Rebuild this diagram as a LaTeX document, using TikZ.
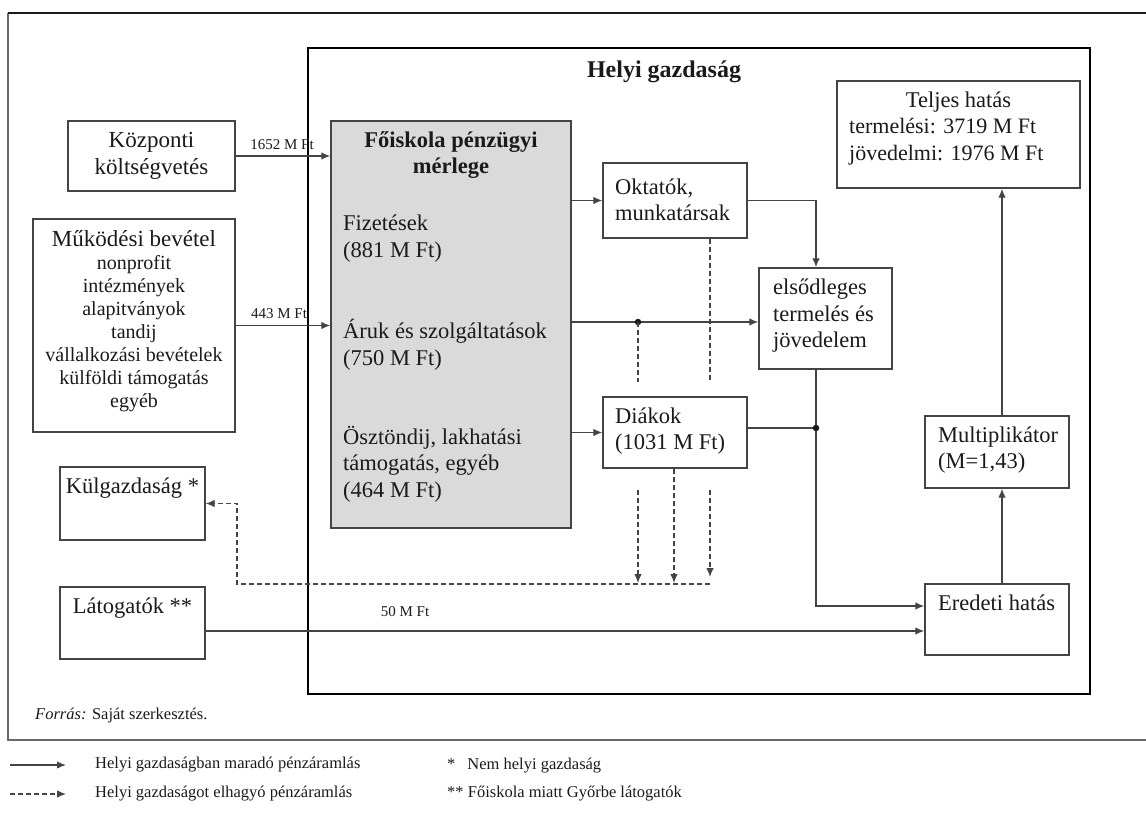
\documentclass[tikz,border=0pt]{standalone}
\usepackage{fontspec}
\setmainfont{Liberation Serif}
\usetikzlibrary{arrows.meta}
\definecolor{edge}{HTML}{444444}
\definecolor{ink}{HTML}{1A1A1A}
\definecolor{panel}{HTML}{DADADA}

\begin{document}
\begin{tikzpicture}[x=1pt,y=-1pt,
  box/.style={draw=edge, line width=1.4pt, fill=white, inner sep=0pt},
  txt/.style={text=ink, inner sep=0pt, font=\fontsize{22.5}{26.5}\selectfont},
  small/.style={text=ink, inner sep=0pt, font=\fontsize{15}{18}\selectfont},
  legend/.style={text=ink, inner sep=0pt, anchor=west, font=\fontsize{16.5}{19}\selectfont},
  flow/.style={draw=edge, line width=1.3pt, -{Latex[length=9pt,width=7.5pt]}},
  leak/.style={draw=edge, line width=1.1pt, dash pattern=on 5pt off 3pt, -{Latex[length=9pt,width=7.5pt]}},
  leakline/.style={draw=edge, line width=1.1pt, dash pattern=on 5pt off 3pt},
  joint/.style={circle, fill=ink, inner sep=0pt, minimum size=6.5pt},
]
\useasboundingbox (0,0) rectangle (1146,813);

% outer frame (open to the right)
\draw[draw=edge!80, line width=1.2pt] (1146,740) -- (8,740) -- (8,13);
\draw[draw=ink, line width=2.6pt] (8,13) -- (1146,13);

% local economy frame
\node[draw=black, line width=2.6pt, inner sep=0pt, minimum width=782pt, minimum height=646pt] (helyi) at (699,371) {};
\node[txt, font=\bfseries\fontsize{24}{28}\selectfont] (helyititle) at (664,72) {Helyi gazdaság};

% sources
\node[box, txt, align=center, minimum width=167pt, minimum height=70pt, font=\fontsize{23}{27}\selectfont] (kozp) at (151.5,156) {Központi\\költségvetés};
\node[box, minimum width=202pt, minimum height=213pt] (mukod) at (134,325.5) {};
\node[txt, align=center, font=\fontsize{20}{23}\selectfont] (mukodtxt) at (134,321)
  {{\fontsize{23}{23}\selectfont Működési bevétel}\\nonprofit\\intézmények\\alapitványok\\tandij\\vállalkozási bevételek\\külföldi támogatás\\egyéb};

% college balance
\node[box, fill=panel, minimum width=240pt, minimum height=407pt] (foisk) at (451,324.5) {};
\node[txt, align=center, font=\bfseries\fontsize{22.5}{26}\selectfont] (foisktitle) at (451,155) {Főiskola pénzügyi\\mérlege};
\node[txt, anchor=west, align=left] (fizet) at (343,238.5) {Fizetések\\(881 M Ft)};
\node[txt, anchor=west, align=left] (aruk) at (343,344.5) {Áruk és szolgáltatások\\(750 M Ft)};
\node[txt, anchor=west, align=left] (oszt) at (343,464) {Ösztöndij, lakhatási\\támogatás, egyéb\\(464 M Ft)};

% recipients
\node[box, minimum width=144pt, minimum height=75pt] (oktat) at (675,200.5) {};
\node[txt, anchor=west, align=left] (oktattxt) at (615,200) {Oktatók,\\munkatársak};
\node[box, minimum width=144pt, minimum height=71pt] (diak) at (675,432.5) {};
\node[txt, anchor=west, align=left] (diaktxt) at (615,431) {Diákok\\(1031 M Ft)};
\node[box, minimum width=133pt, minimum height=101pt] (elsod) at (825.5,318.5) {};
\node[txt, anchor=west, align=left] (elsodtxt) at (773,316) {elsődleges\\termelés és\\jövedelem};

% impacts
\node[box, minimum width=243pt, minimum height=107pt] (teljes) at (958.5,134.5) {};
\node[txt] (teljescap) at (958.5,102) {Teljes hatás};
\node[txt, anchor=west, align=left, font=\fontsize{22}{26.5}\selectfont] (teljesval) at (849,141.5) {termelési: 3719 M Ft\\jövedelmi: 1976 M Ft};
\node[box, minimum width=144pt, minimum height=72pt] (multi) at (997,452) {};
\node[txt, anchor=west, align=left] (multitxt) at (938,450) {Multiplikátor\\(M=1,43)};
\node[box, minimum width=144pt, minimum height=71pt] (ered) at (997,619.5) {};
\node[txt, anchor=west] (eredtxt) at (938,603) {Eredeti hatás};

% outside the local economy
\node[box, minimum width=145pt, minimum height=73pt] (kulg) at (132.5,503.5) {};
\node[txt] (kulgtxt) at (132.5,488) {Külgazdaság *};
\node[box, minimum width=145pt, minimum height=72pt] (latog) at (132.5,623) {};
\node[txt] (latogtxt) at (132.5,608) {Látogatók **};

% helper coordinates
\coordinate (jdot) at (638,322);
\coordinate (jx) at (816,428);
\coordinate (jbend) at (816,606);
\coordinate (vy) at (400,631);
\coordinate (mx) at (1002,540);
\coordinate (dB) at (674,0);
\coordinate (dC) at (710,0);
\coordinate (gapTop) at (0,382);
\coordinate (gapBot) at (0,490);
\coordinate (tipY) at (0,583);
\coordinate (tipYc) at (0,577);
\coordinate (coll) at (710,584);
\coordinate (collL) at (237,584);

% money flows staying local
\draw[flow] (kozp.east) -- (kozp.east -| foisk.west);
\draw[flow] (mukod.east) -- (mukod.east -| foisk.west);
\draw[flow] (oktat.west -| foisk.east) -- (oktat.west);
\draw[flow] (jdot -| foisk.east) -- (jdot -| elsod.west);
\draw[flow] (diak.west -| foisk.east) -- (diak.west);
\draw[flow] (oktat.east) -| (jx |- elsod.north);
\draw[draw=edge, line width=1.3pt] (jx -| diak.east) -- (jx);
\draw[flow] (jx |- elsod.south) -- (jbend) -- (jbend -| ered.west);
\draw[flow] (vy -| latog.east) -- (vy -| ered.west);
\draw[flow] (mx |- ered.north) -- (mx |- multi.south);
\draw[flow] (mx |- multi.north) -- (mx |- teljes.south);
\node[joint] (dotA) at (jdot) {};
\node[joint] (dotB) at (jx) {};

% money flows leaving
\draw[leakline] (jdot) -- (jdot |- gapTop);
\draw[leak] (jdot |- gapBot) -- (jdot |- tipY);
\draw[leakline] (dC |- oktat.south) -- (dC |- gapTop);
\draw[leak] (dC |- gapBot) -- (dC |- tipYc);
\draw[leak] (dB |- diak.south) -- (dB |- tipY);
\draw[leak] (coll) -- (collL) -- (collL |- kulg.east) -- (kulg.east);

% flow amounts
\node[small] (lab1) at (282,145) {1652 M Ft};
\node[small] (lab2) at (279,314) {443 M Ft};
\node[small] (lab3) at (405,612) {50 M Ft};

% source note
\node[legend] (src) at (35,716) {\textit{Forrás:} Saját szerkesztés.};

% legend
\coordinate (lg1a) at (10,765);
\coordinate (lg1b) at (66,765);
\coordinate (lg2a) at (10,794);
\coordinate (lg2b) at (66,794);
\draw[flow] (lg1a) -- (lg1b);
\draw[leak] (lg2a) -- (lg2b);
\node[legend] (lgt1) at (95,765) {Helyi gazdaságban maradó pénzáramlás};
\node[legend] (lgt2) at (95,794) {Helyi gazdaságot elhagyó pénzáramlás};
\node[legend] (lgt3) at (447,766) {*\hspace{12pt}Nem helyi gazdaság};
\node[legend] (lgt4) at (447,794) {** Főiskola miatt Győrbe látogatók};
\end{tikzpicture}
\end{document}
